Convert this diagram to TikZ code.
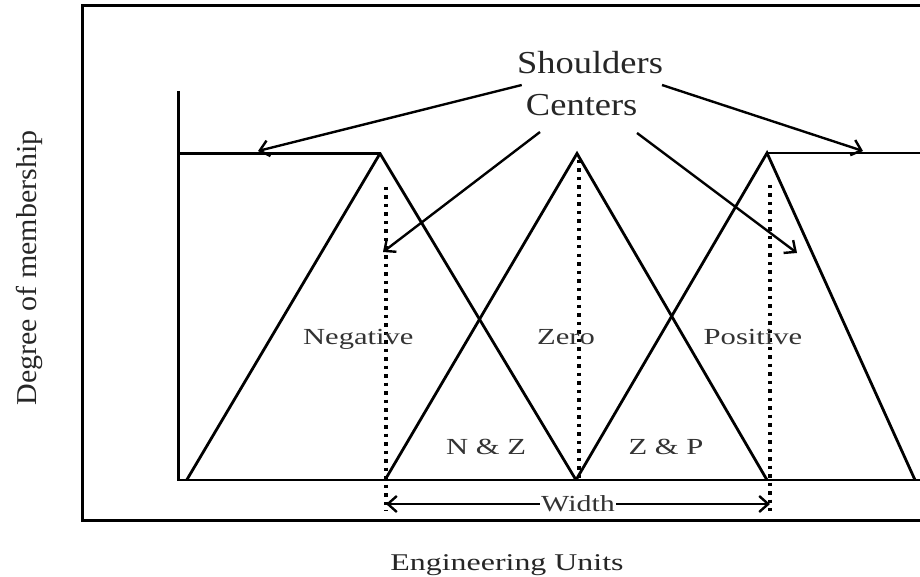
\documentclass[tikz,border=0pt]{standalone}
\usepackage{fontspec}
\setmainfont{Liberation Serif}
\usepackage{graphicx}
\usetikzlibrary{arrows.meta}
\tikzset{
  barb/.tip={Straight Barb[length=9pt,width=16pt,line width=2.4pt]},
  frame/.style={line width=3.4pt},
  curve/.style={line width=2.8pt},
  guide/.style={line width=3.4pt, dash pattern=on 3.5pt off 5pt},
  pointer/.style={line width=2.4pt, -barb},
  span/.style={line width=2.4pt, barb-barb},
  biglabel/.style={font=\fontsize{32}{32}\selectfont, text=black!85, anchor=base},
  setlabel/.style={font=\fontsize{23}{23}\selectfont, text=black!80, anchor=base},
  axislabel/.style={font=\fontsize{24}{24}\selectfont, text=black!85},
}
\newcommand{\wide}[2]{\scalebox{#1}[1]{#2}}

\begin{document}
\begin{tikzpicture}[x=1pt,y=-1pt]
	\useasboundingbox (0,0) rectangle (920,577);
	\clip (0,0) rectangle (920,577);
	\draw[frame] (82.7,5.7) rectangle (935,520.7);
	\coordinate (axtop) at (178.3,91);
	\coordinate (origin) at (178.3,480);
	\coordinate (nfoot) at (186.7,480);
	\coordinate (npeak) at (380,153.5);
	\coordinate (zpeak) at (577,153.5);
	\coordinate (ppeak) at (767,153);
	\draw[curve] (axtop) -- (origin) -- (935,480);
	\draw[curve] (178.3,153.5) -- (npeak) -- (576,480);
	\draw[curve] (nfoot) -- (npeak);
	\draw[curve] (385,480) -- (zpeak) -- (767,480);
	\draw[curve] (576,480) -- (ppeak) -- (915,480);
	\draw[curve] (ppeak) -- (935,153);
	\draw[guide] (386,187) -- (386,511);
	\draw[guide] (579,160) -- (579,478);
	\draw[guide] (770,185) -- (770,511);
	\node[biglabel] (shoulders) at (590,73.3) {\wide{1.14}{Shoulders}};
	\node[biglabel] (centers) at (581.7,116) {\wide{1.14}{Centers}};
	\coordinate (shl) at (521.7,85);
	\coordinate (shr) at (662,85);
	\coordinate (cel) at (540,132);
	\coordinate (cer) at (637,133);
	\coordinate (lshoulder) at (258,151);
	\coordinate (rshoulder) at (863,151);
	\coordinate (ncenter) at (383,252);
	\coordinate (pcenter) at (797,253);
	\draw[pointer] (shl) -- (lshoulder);
	\draw[pointer] (shr) -- (rshoulder);
	\draw[pointer] (cel) -- (ncenter);
	\draw[pointer] (cer) -- (pcenter);
	\node[setlabel] (negative) at (358.3,344) {\wide{1.33}{Negative}};
	\node[setlabel] (zero) at (566,344) {\wide{1.33}{Zero}};
	\node[setlabel] (positive) at (753,344) {\wide{1.33}{Positive}};
	\node[setlabel] (nz) at (486,454) {\wide{1.33}{N \& Z}};
	\node[setlabel] (zp) at (666,454) {\wide{1.33}{Z \& P}};
	\coordinate (wl) at (386,504);
	\coordinate (wr) at (770,504);
	\draw[span] (wl) -- node[setlabel, anchor=center, fill=white, inner sep=1pt] (width) {\wide{1.3}{Width}} (wr);
	\node[axislabel, anchor=base] (units) at (507,570) {\wide{1.33}{Engineering Units}};
	\node[axislabel, rotate=90] (degree) at (29,268) {\scalebox{1.25}[1.2]{Degree of membership}};
\end{tikzpicture}
\end{document}
